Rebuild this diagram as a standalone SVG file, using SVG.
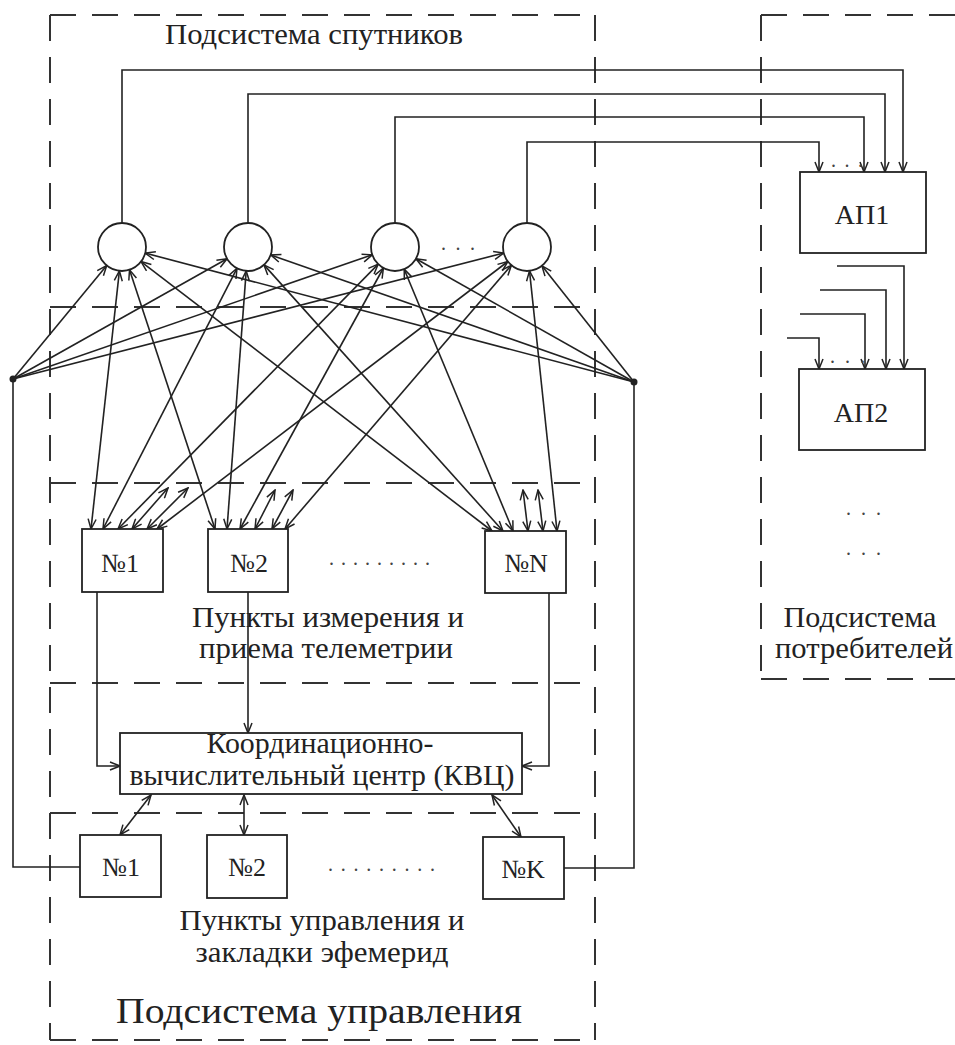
<svg xmlns="http://www.w3.org/2000/svg" width="955" height="1045" viewBox="0 0 955 1045">
<defs>
<marker id="ah" viewBox="0 0 12 10" refX="11" refY="5" markerWidth="12" markerHeight="10" markerUnits="userSpaceOnUse" orient="auto-start-reverse">
<path d="M1,1 L11,5 L1,9" fill="none" stroke="#222" stroke-width="1.5"/>
</marker>
</defs>
<style>
.dash{fill:none;stroke:#333;stroke-width:2;stroke-dasharray:26 16}
.ln{fill:none;stroke:#222;stroke-width:1.6}
.one{marker-end:url(#ah)}
.two{marker-start:url(#ah);marker-end:url(#ah)}
.box{fill:#fff;stroke:#222;stroke-width:1.8}
.sat{fill:#fff;stroke:#222;stroke-width:1.8}
.t{font-family:"Liberation Serif","Times New Roman",serif;fill:#222;text-anchor:middle;font-size:29px}
.n{font-family:"Liberation Serif","Times New Roman",serif;fill:#222;text-anchor:middle;font-size:26px}
.d{font-family:"Liberation Serif","Times New Roman",serif;fill:#444;font-size:20px}
</style>
<rect width="955" height="1045" fill="#fff"/>

<g id="frames">
<path class="dash" d="M50,15 H595 M50,15 V1040 M595,15 V1040 M50,307 H595 M50,483 H595 M50,683 H595 M50,813 H595 M50,1040 H595"/>
<path class="dash" d="M761,15 H955 M761,15 V679 M761,679 H955"/>
<text class="t" x="314" y="44" textLength="298" lengthAdjust="spacingAndGlyphs">Подсистема спутников</text>
<text class="t" x="328" y="627" textLength="272" lengthAdjust="spacingAndGlyphs">Пункты измерения и</text>
<text class="t" x="326" y="658" textLength="254" lengthAdjust="spacingAndGlyphs">приема телеметрии</text>
<text class="t" x="322" y="930" textLength="285" lengthAdjust="spacingAndGlyphs">Пункты управления и</text>
<text class="t" x="322" y="962" textLength="253" lengthAdjust="spacingAndGlyphs">закладки эфемерид</text>
<text class="t" x="319" y="1023" style="font-size:36px" textLength="406" lengthAdjust="spacingAndGlyphs">Подсистема управления</text>
<text class="t" x="860" y="627" textLength="153" lengthAdjust="spacingAndGlyphs">Подсистема</text>
<text class="t" x="864" y="658" textLength="178" lengthAdjust="spacingAndGlyphs">потребителей</text>
</g>

<g id="connectors" class="ln">
<path class="one" d="M122,223 V70 H903 V172"/>
<path class="one" d="M248,223 V94 H885 V172"/>
<path class="one" d="M395,223 V117 H864 V172"/>
<path class="one" d="M527,223 V142 H819 V172"/>
<path class="one" d="M837,266 H904 V369"/>
<path class="one" d="M820,290 H886 V369"/>
<path class="one" d="M800,314 H865 V369"/>
<path class="one" d="M787,338 H819 V369"/>
<path class="one" d="M13,379 L106.7,265.5"/>
<path class="one" d="M13,379 L227.1,258.8"/>
<path class="one" d="M13,379 L372.3,254.8"/>
<path class="one" d="M13,379 L503.8,253"/>
<path class="one" d="M634,382 L145.2,253.1"/>
<path class="one" d="M634,382 L270.7,254.9"/>
<path class="one" d="M634,382 L415.9,258.8"/>
<path class="one" d="M634,382 L541.9,265.8"/>
<path class="two" d="M119.4,270.9 L91,529"/>
<path class="two" d="M129.5,269.8 L215,529"/>
<path class="two" d="M141,261.6 L492,531"/>
<path class="two" d="M237,268.3 L103,529"/>
<path class="two" d="M246.2,270.9 L227,529"/>
<path class="two" d="M264,264.9 L503,531"/>
<path class="two" d="M378.2,264.1 L118,529"/>
<path class="two" d="M383.4,268 L240,529"/>
<path class="two" d="M404.2,269.2 L513,531"/>
<path class="two" d="M507.9,261.5 L157,529"/>
<path class="two" d="M511.4,265.2 L285,529"/>
<path class="two" d="M529.5,270.9 L557,531"/>
<path class="two" d="M132,529 L168,488"/>
<path class="two" d="M147,529 L188,488"/>
<path class="two" d="M255,529 L275,490"/>
<path class="two" d="M272,529 L293,490"/>
<path class="two" d="M528,531 L523,490"/>
<path class="two" d="M543,531 L538,490"/>
<path class="one" d="M97,592 V766 H120"/>
<path class="one" d="M248,592 V733"/>
<path class="one" d="M549,593 V766 H522"/>
<path class="two" d="M151,795 L120,835"/>
<path class="two" d="M244,795 V835"/>
<path class="two" d="M492,795 L521,837"/>
<path d="M13,379 V867 H80"/>
<path d="M564,868 H634 V382"/>
<circle cx="13" cy="379" r="3.5" fill="#222" stroke="none"/>
<circle cx="634" cy="382" r="3.5" fill="#222" stroke="none"/>
</g>

<g id="sat1"><circle class="sat" cx="122" cy="247" r="24"/></g>
<g id="sat2"><circle class="sat" cx="248" cy="247" r="24"/></g>
<g id="sat3"><circle class="sat" cx="395" cy="247" r="24"/></g>
<g id="sat4"><circle class="sat" cx="527" cy="247" r="24"/></g>
<text class="d" x="441" y="250" letter-spacing="9.5">...</text>

<g id="ap1"><rect class="box" x="800" y="172" width="126" height="81"/><text class="t" x="862" y="224" style="font-size:28px">АП1</text></g>
<text class="d" x="831" y="167" letter-spacing="8.5">...</text>
<g id="ap2"><rect class="box" x="799" y="369" width="126" height="81"/><text class="t" x="861" y="422" style="font-size:28px">АП2</text></g>
<text class="d" x="830" y="363" letter-spacing="10">...</text>
<text class="d" x="846" y="515" letter-spacing="10">...</text>
<text class="d" x="846" y="555" letter-spacing="10">...</text>

<g id="m1"><rect class="box" x="82" y="529" width="81" height="63"/><text class="n" x="120" y="572">№1</text></g>
<g id="m2"><rect class="box" x="208" y="529" width="80" height="63"/><text class="n" x="249" y="572">№2</text></g>
<text class="d" x="329" y="565" letter-spacing="7">.........</text>
<g id="mN"><rect class="box" x="485" y="531" width="81" height="62"/><text class="n" x="526" y="572">№N</text></g>

<g id="kvc"><rect class="box" x="120" y="733" width="402" height="61"/>
<text class="t" x="320" y="753" textLength="227" lengthAdjust="spacingAndGlyphs">Координационно-</text>
<text class="t" x="322" y="785" textLength="385" lengthAdjust="spacingAndGlyphs">вычислительный центр (КВЦ)</text></g>

<g id="c1"><rect class="box" x="80" y="835" width="81" height="62"/><text class="n" x="121" y="876">№1</text></g>
<g id="c2"><rect class="box" x="207" y="835" width="80" height="63"/><text class="n" x="247" y="876">№2</text></g>
<text class="d" x="328" y="871" letter-spacing="7.75">.........</text>
<g id="cK"><rect class="box" x="483" y="837" width="81" height="62"/><text class="n" x="523" y="878">№K</text></g>
</svg>
